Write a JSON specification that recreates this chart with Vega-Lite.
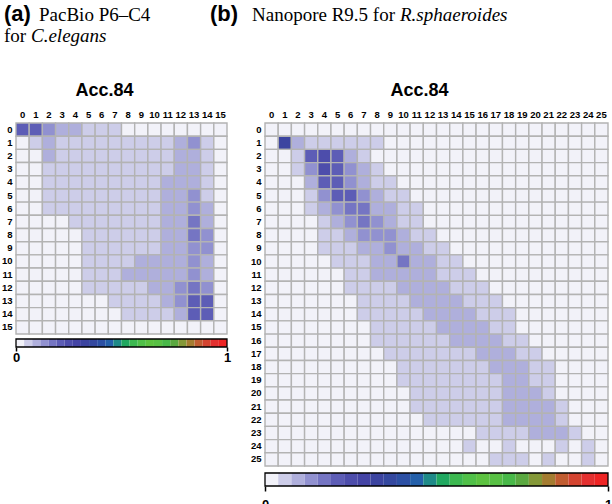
{"$schema":"https://vega.github.io/schema/vega-lite/v6.json","padding":{"left":1,"top":3,"right":0,"bottom":0},"background":"white","config":{"view":{"stroke":null},"axis":{"labelFont":"Liberation Sans","labelFontWeight":"bold","labelColor":"black"}},"spacing":-21,"datasets":{"a":[
{"row":0,"col":0,"acc":0.21},{"row":0,"col":1,"acc":0.21},{"row":0,"col":2,"acc":0.13},{"row":0,"col":3,"acc":0.1},{"row":0,"col":4,"acc":0.1},{"row":0,"col":5,"acc":0.06},{"row":0,"col":6,"acc":0.06},{"row":0,"col":7,"acc":0.06},{"row":0,"col":8,"acc":0.01},{"row":0,"col":9,"acc":0.01},{"row":0,"col":10,"acc":0.01},{"row":0,"col":11,"acc":0.01},{"row":0,"col":12,"acc":0.01},{"row":0,"col":13,"acc":0.01},{"row":0,"col":14,"acc":0.01},{"row":0,"col":15,"acc":0.01},
{"row":1,"col":0,"acc":0.01},{"row":1,"col":1,"acc":0.06},{"row":1,"col":2,"acc":0.1},{"row":1,"col":3,"acc":0.06},{"row":1,"col":4,"acc":0.06},{"row":1,"col":5,"acc":0.06},{"row":1,"col":6,"acc":0.06},{"row":1,"col":7,"acc":0.06},{"row":1,"col":8,"acc":0.06},{"row":1,"col":9,"acc":0.06},{"row":1,"col":10,"acc":0.06},{"row":1,"col":11,"acc":0.06},{"row":1,"col":12,"acc":0.1},{"row":1,"col":13,"acc":0.13},{"row":1,"col":14,"acc":0.06},{"row":1,"col":15,"acc":0.01},
{"row":2,"col":0,"acc":0.01},{"row":2,"col":1,"acc":0.01},{"row":2,"col":2,"acc":0.1},{"row":2,"col":3,"acc":0.06},{"row":2,"col":4,"acc":0.06},{"row":2,"col":5,"acc":0.06},{"row":2,"col":6,"acc":0.06},{"row":2,"col":7,"acc":0.06},{"row":2,"col":8,"acc":0.06},{"row":2,"col":9,"acc":0.06},{"row":2,"col":10,"acc":0.06},{"row":2,"col":11,"acc":0.06},{"row":2,"col":12,"acc":0.1},{"row":2,"col":13,"acc":0.1},{"row":2,"col":14,"acc":0.06},{"row":2,"col":15,"acc":0.01},
{"row":3,"col":0,"acc":0.01},{"row":3,"col":1,"acc":0.01},{"row":3,"col":2,"acc":0.06},{"row":3,"col":3,"acc":0.06},{"row":3,"col":4,"acc":0.06},{"row":3,"col":5,"acc":0.06},{"row":3,"col":6,"acc":0.06},{"row":3,"col":7,"acc":0.06},{"row":3,"col":8,"acc":0.06},{"row":3,"col":9,"acc":0.06},{"row":3,"col":10,"acc":0.06},{"row":3,"col":11,"acc":0.06},{"row":3,"col":12,"acc":0.1},{"row":3,"col":13,"acc":0.1},{"row":3,"col":14,"acc":0.06},{"row":3,"col":15,"acc":0.01},
{"row":4,"col":0,"acc":0.01},{"row":4,"col":1,"acc":0.01},{"row":4,"col":2,"acc":0.06},{"row":4,"col":3,"acc":0.06},{"row":4,"col":4,"acc":0.06},{"row":4,"col":5,"acc":0.06},{"row":4,"col":6,"acc":0.06},{"row":4,"col":7,"acc":0.06},{"row":4,"col":8,"acc":0.06},{"row":4,"col":9,"acc":0.06},{"row":4,"col":10,"acc":0.06},{"row":4,"col":11,"acc":0.1},{"row":4,"col":12,"acc":0.1},{"row":4,"col":13,"acc":0.1},{"row":4,"col":14,"acc":0.06},{"row":4,"col":15,"acc":0.01},
{"row":5,"col":0,"acc":0.01},{"row":5,"col":1,"acc":0.01},{"row":5,"col":2,"acc":0.06},{"row":5,"col":3,"acc":0.06},{"row":5,"col":4,"acc":0.06},{"row":5,"col":5,"acc":0.06},{"row":5,"col":6,"acc":0.06},{"row":5,"col":7,"acc":0.06},{"row":5,"col":8,"acc":0.06},{"row":5,"col":9,"acc":0.06},{"row":5,"col":10,"acc":0.06},{"row":5,"col":11,"acc":0.1},{"row":5,"col":12,"acc":0.1},{"row":5,"col":13,"acc":0.13},{"row":5,"col":14,"acc":0.06},{"row":5,"col":15,"acc":0.01},
{"row":6,"col":0,"acc":0.01},{"row":6,"col":1,"acc":0.01},{"row":6,"col":2,"acc":0.06},{"row":6,"col":3,"acc":0.06},{"row":6,"col":4,"acc":0.06},{"row":6,"col":5,"acc":0.06},{"row":6,"col":6,"acc":0.06},{"row":6,"col":7,"acc":0.06},{"row":6,"col":8,"acc":0.06},{"row":6,"col":9,"acc":0.06},{"row":6,"col":10,"acc":0.06},{"row":6,"col":11,"acc":0.1},{"row":6,"col":12,"acc":0.1},{"row":6,"col":13,"acc":0.13},{"row":6,"col":14,"acc":0.1},{"row":6,"col":15,"acc":0.01},
{"row":7,"col":0,"acc":0.01},{"row":7,"col":1,"acc":0.01},{"row":7,"col":2,"acc":0.01},{"row":7,"col":3,"acc":0.01},{"row":7,"col":4,"acc":0.06},{"row":7,"col":5,"acc":0.06},{"row":7,"col":6,"acc":0.06},{"row":7,"col":7,"acc":0.06},{"row":7,"col":8,"acc":0.06},{"row":7,"col":9,"acc":0.06},{"row":7,"col":10,"acc":0.06},{"row":7,"col":11,"acc":0.1},{"row":7,"col":12,"acc":0.1},{"row":7,"col":13,"acc":0.17},{"row":7,"col":14,"acc":0.1},{"row":7,"col":15,"acc":0.01},
{"row":8,"col":0,"acc":0.01},{"row":8,"col":1,"acc":0.01},{"row":8,"col":2,"acc":0.01},{"row":8,"col":3,"acc":0.01},{"row":8,"col":4,"acc":0.01},{"row":8,"col":5,"acc":0.06},{"row":8,"col":6,"acc":0.06},{"row":8,"col":7,"acc":0.06},{"row":8,"col":8,"acc":0.06},{"row":8,"col":9,"acc":0.06},{"row":8,"col":10,"acc":0.06},{"row":8,"col":11,"acc":0.1},{"row":8,"col":12,"acc":0.1},{"row":8,"col":13,"acc":0.17},{"row":8,"col":14,"acc":0.13},{"row":8,"col":15,"acc":0.01},
{"row":9,"col":0,"acc":0.01},{"row":9,"col":1,"acc":0.01},{"row":9,"col":2,"acc":0.01},{"row":9,"col":3,"acc":0.01},{"row":9,"col":4,"acc":0.01},{"row":9,"col":5,"acc":0.06},{"row":9,"col":6,"acc":0.06},{"row":9,"col":7,"acc":0.06},{"row":9,"col":8,"acc":0.06},{"row":9,"col":9,"acc":0.06},{"row":9,"col":10,"acc":0.06},{"row":9,"col":11,"acc":0.1},{"row":9,"col":12,"acc":0.1},{"row":9,"col":13,"acc":0.13},{"row":9,"col":14,"acc":0.13},{"row":9,"col":15,"acc":0.01},
{"row":10,"col":0,"acc":0.01},{"row":10,"col":1,"acc":0.01},{"row":10,"col":2,"acc":0.01},{"row":10,"col":3,"acc":0.01},{"row":10,"col":4,"acc":0.01},{"row":10,"col":5,"acc":0.06},{"row":10,"col":6,"acc":0.06},{"row":10,"col":7,"acc":0.06},{"row":10,"col":8,"acc":0.06},{"row":10,"col":9,"acc":0.1},{"row":10,"col":10,"acc":0.1},{"row":10,"col":11,"acc":0.1},{"row":10,"col":12,"acc":0.1},{"row":10,"col":13,"acc":0.13},{"row":10,"col":14,"acc":0.1},{"row":10,"col":15,"acc":0.01},
{"row":11,"col":0,"acc":0.01},{"row":11,"col":1,"acc":0.01},{"row":11,"col":2,"acc":0.01},{"row":11,"col":3,"acc":0.01},{"row":11,"col":4,"acc":0.01},{"row":11,"col":5,"acc":0.06},{"row":11,"col":6,"acc":0.06},{"row":11,"col":7,"acc":0.06},{"row":11,"col":8,"acc":0.1},{"row":11,"col":9,"acc":0.1},{"row":11,"col":10,"acc":0.1},{"row":11,"col":11,"acc":0.1},{"row":11,"col":12,"acc":0.1},{"row":11,"col":13,"acc":0.13},{"row":11,"col":14,"acc":0.1},{"row":11,"col":15,"acc":0.01},
{"row":12,"col":0,"acc":0.01},{"row":12,"col":1,"acc":0.01},{"row":12,"col":2,"acc":0.01},{"row":12,"col":3,"acc":0.01},{"row":12,"col":4,"acc":0.01},{"row":12,"col":5,"acc":0.06},{"row":12,"col":6,"acc":0.06},{"row":12,"col":7,"acc":0.06},{"row":12,"col":8,"acc":0.06},{"row":12,"col":9,"acc":0.06},{"row":12,"col":10,"acc":0.1},{"row":12,"col":11,"acc":0.1},{"row":12,"col":12,"acc":0.13},{"row":12,"col":13,"acc":0.17},{"row":12,"col":14,"acc":0.13},{"row":12,"col":15,"acc":0.01},
{"row":13,"col":0,"acc":0.01},{"row":13,"col":1,"acc":0.01},{"row":13,"col":2,"acc":0.01},{"row":13,"col":3,"acc":0.01},{"row":13,"col":4,"acc":0.01},{"row":13,"col":5,"acc":0.01},{"row":13,"col":6,"acc":0.01},{"row":13,"col":7,"acc":0.06},{"row":13,"col":8,"acc":0.06},{"row":13,"col":9,"acc":0.06},{"row":13,"col":10,"acc":0.06},{"row":13,"col":11,"acc":0.1},{"row":13,"col":12,"acc":0.13},{"row":13,"col":13,"acc":0.21},{"row":13,"col":14,"acc":0.21},{"row":13,"col":15,"acc":0.01},
{"row":14,"col":0,"acc":0.01},{"row":14,"col":1,"acc":0.01},{"row":14,"col":2,"acc":0.01},{"row":14,"col":3,"acc":0.01},{"row":14,"col":4,"acc":0.01},{"row":14,"col":5,"acc":0.01},{"row":14,"col":6,"acc":0.01},{"row":14,"col":7,"acc":0.01},{"row":14,"col":8,"acc":0.06},{"row":14,"col":9,"acc":0.06},{"row":14,"col":10,"acc":0.06},{"row":14,"col":11,"acc":0.06},{"row":14,"col":12,"acc":0.1},{"row":14,"col":13,"acc":0.21},{"row":14,"col":14,"acc":0.21},{"row":14,"col":15,"acc":0.01},
{"row":15,"col":0,"acc":0.01},{"row":15,"col":1,"acc":0.01},{"row":15,"col":2,"acc":0.01},{"row":15,"col":3,"acc":0.01},{"row":15,"col":4,"acc":0.01},{"row":15,"col":5,"acc":0.01},{"row":15,"col":6,"acc":0.01},{"row":15,"col":7,"acc":0.01},{"row":15,"col":8,"acc":0.01},{"row":15,"col":9,"acc":0.01},{"row":15,"col":10,"acc":0.01},{"row":15,"col":11,"acc":0.01},{"row":15,"col":12,"acc":0.01},{"row":15,"col":13,"acc":0.01},{"row":15,"col":14,"acc":0.01},{"row":15,"col":15,"acc":0.01}
],"b":[
{"row":0,"col":0,"acc":0.01},{"row":0,"col":1,"acc":0.01},{"row":0,"col":2,"acc":0.01},{"row":0,"col":3,"acc":0.01},{"row":0,"col":4,"acc":0.01},{"row":0,"col":5,"acc":0.01},{"row":0,"col":6,"acc":0.01},{"row":0,"col":7,"acc":0.01},{"row":0,"col":8,"acc":0.01},{"row":0,"col":9,"acc":0.01},{"row":0,"col":10,"acc":0.01},{"row":0,"col":11,"acc":0.01},{"row":0,"col":12,"acc":0.01},{"row":0,"col":13,"acc":0.01},{"row":0,"col":14,"acc":0.01},{"row":0,"col":15,"acc":0.01},{"row":0,"col":16,"acc":0.01},{"row":0,"col":17,"acc":0.01},{"row":0,"col":18,"acc":0.01},{"row":0,"col":19,"acc":0.01},{"row":0,"col":20,"acc":0.01},{"row":0,"col":21,"acc":0.01},{"row":0,"col":22,"acc":0.01},{"row":0,"col":23,"acc":0.01},{"row":0,"col":24,"acc":0.01},{"row":0,"col":25,"acc":0.01},
{"row":1,"col":0,"acc":0.01},{"row":1,"col":1,"acc":0.33},{"row":1,"col":2,"acc":0.1},{"row":1,"col":3,"acc":0.06},{"row":1,"col":4,"acc":0.06},{"row":1,"col":5,"acc":0.06},{"row":1,"col":6,"acc":0.06},{"row":1,"col":7,"acc":0.06},{"row":1,"col":8,"acc":0.06},{"row":1,"col":9,"acc":0.01},{"row":1,"col":10,"acc":0.01},{"row":1,"col":11,"acc":0.01},{"row":1,"col":12,"acc":0.01},{"row":1,"col":13,"acc":0.01},{"row":1,"col":14,"acc":0.01},{"row":1,"col":15,"acc":0.01},{"row":1,"col":16,"acc":0.01},{"row":1,"col":17,"acc":0.01},{"row":1,"col":18,"acc":0.01},{"row":1,"col":19,"acc":0.01},{"row":1,"col":20,"acc":0.01},{"row":1,"col":21,"acc":0.01},{"row":1,"col":22,"acc":0.01},{"row":1,"col":23,"acc":0.01},{"row":1,"col":24,"acc":0.01},{"row":1,"col":25,"acc":0.01},
{"row":2,"col":0,"acc":0.01},{"row":2,"col":1,"acc":0.01},{"row":2,"col":2,"acc":0.06},{"row":2,"col":3,"acc":0.21},{"row":2,"col":4,"acc":0.25},{"row":2,"col":5,"acc":0.21},{"row":2,"col":6,"acc":0.1},{"row":2,"col":7,"acc":0.06},{"row":2,"col":8,"acc":0.01},{"row":2,"col":9,"acc":0.01},{"row":2,"col":10,"acc":0.01},{"row":2,"col":11,"acc":0.01},{"row":2,"col":12,"acc":0.01},{"row":2,"col":13,"acc":0.01},{"row":2,"col":14,"acc":0.01},{"row":2,"col":15,"acc":0.01},{"row":2,"col":16,"acc":0.01},{"row":2,"col":17,"acc":0.01},{"row":2,"col":18,"acc":0.01},{"row":2,"col":19,"acc":0.01},{"row":2,"col":20,"acc":0.01},{"row":2,"col":21,"acc":0.01},{"row":2,"col":22,"acc":0.01},{"row":2,"col":23,"acc":0.01},{"row":2,"col":24,"acc":0.01},{"row":2,"col":25,"acc":0.01},
{"row":3,"col":0,"acc":0.01},{"row":3,"col":1,"acc":0.01},{"row":3,"col":2,"acc":0.06},{"row":3,"col":3,"acc":0.13},{"row":3,"col":4,"acc":0.25},{"row":3,"col":5,"acc":0.21},{"row":3,"col":6,"acc":0.13},{"row":3,"col":7,"acc":0.1},{"row":3,"col":8,"acc":0.06},{"row":3,"col":9,"acc":0.01},{"row":3,"col":10,"acc":0.01},{"row":3,"col":11,"acc":0.01},{"row":3,"col":12,"acc":0.01},{"row":3,"col":13,"acc":0.01},{"row":3,"col":14,"acc":0.01},{"row":3,"col":15,"acc":0.01},{"row":3,"col":16,"acc":0.01},{"row":3,"col":17,"acc":0.01},{"row":3,"col":18,"acc":0.01},{"row":3,"col":19,"acc":0.01},{"row":3,"col":20,"acc":0.01},{"row":3,"col":21,"acc":0.01},{"row":3,"col":22,"acc":0.01},{"row":3,"col":23,"acc":0.01},{"row":3,"col":24,"acc":0.01},{"row":3,"col":25,"acc":0.01},
{"row":4,"col":0,"acc":0.01},{"row":4,"col":1,"acc":0.01},{"row":4,"col":2,"acc":0.01},{"row":4,"col":3,"acc":0.1},{"row":4,"col":4,"acc":0.21},{"row":4,"col":5,"acc":0.21},{"row":4,"col":6,"acc":0.13},{"row":4,"col":7,"acc":0.1},{"row":4,"col":8,"acc":0.06},{"row":4,"col":9,"acc":0.06},{"row":4,"col":10,"acc":0.01},{"row":4,"col":11,"acc":0.01},{"row":4,"col":12,"acc":0.01},{"row":4,"col":13,"acc":0.01},{"row":4,"col":14,"acc":0.01},{"row":4,"col":15,"acc":0.01},{"row":4,"col":16,"acc":0.01},{"row":4,"col":17,"acc":0.01},{"row":4,"col":18,"acc":0.01},{"row":4,"col":19,"acc":0.01},{"row":4,"col":20,"acc":0.01},{"row":4,"col":21,"acc":0.01},{"row":4,"col":22,"acc":0.01},{"row":4,"col":23,"acc":0.01},{"row":4,"col":24,"acc":0.01},{"row":4,"col":25,"acc":0.01},
{"row":5,"col":0,"acc":0.01},{"row":5,"col":1,"acc":0.01},{"row":5,"col":2,"acc":0.01},{"row":5,"col":3,"acc":0.06},{"row":5,"col":4,"acc":0.13},{"row":5,"col":5,"acc":0.21},{"row":5,"col":6,"acc":0.21},{"row":5,"col":7,"acc":0.13},{"row":5,"col":8,"acc":0.1},{"row":5,"col":9,"acc":0.06},{"row":5,"col":10,"acc":0.06},{"row":5,"col":11,"acc":0.01},{"row":5,"col":12,"acc":0.01},{"row":5,"col":13,"acc":0.01},{"row":5,"col":14,"acc":0.01},{"row":5,"col":15,"acc":0.01},{"row":5,"col":16,"acc":0.01},{"row":5,"col":17,"acc":0.01},{"row":5,"col":18,"acc":0.01},{"row":5,"col":19,"acc":0.01},{"row":5,"col":20,"acc":0.01},{"row":5,"col":21,"acc":0.01},{"row":5,"col":22,"acc":0.01},{"row":5,"col":23,"acc":0.01},{"row":5,"col":24,"acc":0.01},{"row":5,"col":25,"acc":0.01},
{"row":6,"col":0,"acc":0.01},{"row":6,"col":1,"acc":0.01},{"row":6,"col":2,"acc":0.01},{"row":6,"col":3,"acc":0.06},{"row":6,"col":4,"acc":0.1},{"row":6,"col":5,"acc":0.13},{"row":6,"col":6,"acc":0.17},{"row":6,"col":7,"acc":0.17},{"row":6,"col":8,"acc":0.1},{"row":6,"col":9,"acc":0.1},{"row":6,"col":10,"acc":0.06},{"row":6,"col":11,"acc":0.06},{"row":6,"col":12,"acc":0.01},{"row":6,"col":13,"acc":0.01},{"row":6,"col":14,"acc":0.01},{"row":6,"col":15,"acc":0.01},{"row":6,"col":16,"acc":0.01},{"row":6,"col":17,"acc":0.01},{"row":6,"col":18,"acc":0.01},{"row":6,"col":19,"acc":0.01},{"row":6,"col":20,"acc":0.01},{"row":6,"col":21,"acc":0.01},{"row":6,"col":22,"acc":0.01},{"row":6,"col":23,"acc":0.01},{"row":6,"col":24,"acc":0.01},{"row":6,"col":25,"acc":0.01},
{"row":7,"col":0,"acc":0.01},{"row":7,"col":1,"acc":0.01},{"row":7,"col":2,"acc":0.01},{"row":7,"col":3,"acc":0.01},{"row":7,"col":4,"acc":0.06},{"row":7,"col":5,"acc":0.1},{"row":7,"col":6,"acc":0.13},{"row":7,"col":7,"acc":0.17},{"row":7,"col":8,"acc":0.13},{"row":7,"col":9,"acc":0.1},{"row":7,"col":10,"acc":0.06},{"row":7,"col":11,"acc":0.06},{"row":7,"col":12,"acc":0.01},{"row":7,"col":13,"acc":0.01},{"row":7,"col":14,"acc":0.01},{"row":7,"col":15,"acc":0.01},{"row":7,"col":16,"acc":0.01},{"row":7,"col":17,"acc":0.01},{"row":7,"col":18,"acc":0.01},{"row":7,"col":19,"acc":0.01},{"row":7,"col":20,"acc":0.01},{"row":7,"col":21,"acc":0.01},{"row":7,"col":22,"acc":0.01},{"row":7,"col":23,"acc":0.01},{"row":7,"col":24,"acc":0.01},{"row":7,"col":25,"acc":0.01},
{"row":8,"col":0,"acc":0.01},{"row":8,"col":1,"acc":0.01},{"row":8,"col":2,"acc":0.01},{"row":8,"col":3,"acc":0.01},{"row":8,"col":4,"acc":0.06},{"row":8,"col":5,"acc":0.06},{"row":8,"col":6,"acc":0.1},{"row":8,"col":7,"acc":0.13},{"row":8,"col":8,"acc":0.13},{"row":8,"col":9,"acc":0.13},{"row":8,"col":10,"acc":0.1},{"row":8,"col":11,"acc":0.06},{"row":8,"col":12,"acc":0.06},{"row":8,"col":13,"acc":0.01},{"row":8,"col":14,"acc":0.01},{"row":8,"col":15,"acc":0.01},{"row":8,"col":16,"acc":0.01},{"row":8,"col":17,"acc":0.01},{"row":8,"col":18,"acc":0.01},{"row":8,"col":19,"acc":0.01},{"row":8,"col":20,"acc":0.01},{"row":8,"col":21,"acc":0.01},{"row":8,"col":22,"acc":0.01},{"row":8,"col":23,"acc":0.01},{"row":8,"col":24,"acc":0.01},{"row":8,"col":25,"acc":0.01},
{"row":9,"col":0,"acc":0.01},{"row":9,"col":1,"acc":0.01},{"row":9,"col":2,"acc":0.01},{"row":9,"col":3,"acc":0.01},{"row":9,"col":4,"acc":0.06},{"row":9,"col":5,"acc":0.06},{"row":9,"col":6,"acc":0.06},{"row":9,"col":7,"acc":0.1},{"row":9,"col":8,"acc":0.1},{"row":9,"col":9,"acc":0.13},{"row":9,"col":10,"acc":0.1},{"row":9,"col":11,"acc":0.1},{"row":9,"col":12,"acc":0.06},{"row":9,"col":13,"acc":0.06},{"row":9,"col":14,"acc":0.01},{"row":9,"col":15,"acc":0.01},{"row":9,"col":16,"acc":0.01},{"row":9,"col":17,"acc":0.01},{"row":9,"col":18,"acc":0.01},{"row":9,"col":19,"acc":0.01},{"row":9,"col":20,"acc":0.01},{"row":9,"col":21,"acc":0.01},{"row":9,"col":22,"acc":0.01},{"row":9,"col":23,"acc":0.01},{"row":9,"col":24,"acc":0.01},{"row":9,"col":25,"acc":0.01},
{"row":10,"col":0,"acc":0.01},{"row":10,"col":1,"acc":0.01},{"row":10,"col":2,"acc":0.01},{"row":10,"col":3,"acc":0.01},{"row":10,"col":4,"acc":0.01},{"row":10,"col":5,"acc":0.06},{"row":10,"col":6,"acc":0.06},{"row":10,"col":7,"acc":0.06},{"row":10,"col":8,"acc":0.1},{"row":10,"col":9,"acc":0.1},{"row":10,"col":10,"acc":0.17},{"row":10,"col":11,"acc":0.1},{"row":10,"col":12,"acc":0.1},{"row":10,"col":13,"acc":0.06},{"row":10,"col":14,"acc":0.06},{"row":10,"col":15,"acc":0.01},{"row":10,"col":16,"acc":0.01},{"row":10,"col":17,"acc":0.01},{"row":10,"col":18,"acc":0.01},{"row":10,"col":19,"acc":0.01},{"row":10,"col":20,"acc":0.01},{"row":10,"col":21,"acc":0.01},{"row":10,"col":22,"acc":0.01},{"row":10,"col":23,"acc":0.01},{"row":10,"col":24,"acc":0.01},{"row":10,"col":25,"acc":0.01},
{"row":11,"col":0,"acc":0.01},{"row":11,"col":1,"acc":0.01},{"row":11,"col":2,"acc":0.01},{"row":11,"col":3,"acc":0.01},{"row":11,"col":4,"acc":0.01},{"row":11,"col":5,"acc":0.01},{"row":11,"col":6,"acc":0.06},{"row":11,"col":7,"acc":0.06},{"row":11,"col":8,"acc":0.1},{"row":11,"col":9,"acc":0.1},{"row":11,"col":10,"acc":0.1},{"row":11,"col":11,"acc":0.1},{"row":11,"col":12,"acc":0.1},{"row":11,"col":13,"acc":0.06},{"row":11,"col":14,"acc":0.06},{"row":11,"col":15,"acc":0.06},{"row":11,"col":16,"acc":0.01},{"row":11,"col":17,"acc":0.01},{"row":11,"col":18,"acc":0.01},{"row":11,"col":19,"acc":0.01},{"row":11,"col":20,"acc":0.01},{"row":11,"col":21,"acc":0.01},{"row":11,"col":22,"acc":0.01},{"row":11,"col":23,"acc":0.01},{"row":11,"col":24,"acc":0.01},{"row":11,"col":25,"acc":0.01},
{"row":12,"col":0,"acc":0.01},{"row":12,"col":1,"acc":0.01},{"row":12,"col":2,"acc":0.01},{"row":12,"col":3,"acc":0.01},{"row":12,"col":4,"acc":0.01},{"row":12,"col":5,"acc":0.01},{"row":12,"col":6,"acc":0.06},{"row":12,"col":7,"acc":0.06},{"row":12,"col":8,"acc":0.06},{"row":12,"col":9,"acc":0.06},{"row":12,"col":10,"acc":0.1},{"row":12,"col":11,"acc":0.1},{"row":12,"col":12,"acc":0.1},{"row":12,"col":13,"acc":0.1},{"row":12,"col":14,"acc":0.06},{"row":12,"col":15,"acc":0.06},{"row":12,"col":16,"acc":0.06},{"row":12,"col":17,"acc":0.01},{"row":12,"col":18,"acc":0.01},{"row":12,"col":19,"acc":0.01},{"row":12,"col":20,"acc":0.01},{"row":12,"col":21,"acc":0.01},{"row":12,"col":22,"acc":0.01},{"row":12,"col":23,"acc":0.01},{"row":12,"col":24,"acc":0.01},{"row":12,"col":25,"acc":0.01},
{"row":13,"col":0,"acc":0.01},{"row":13,"col":1,"acc":0.01},{"row":13,"col":2,"acc":0.01},{"row":13,"col":3,"acc":0.01},{"row":13,"col":4,"acc":0.01},{"row":13,"col":5,"acc":0.01},{"row":13,"col":6,"acc":0.01},{"row":13,"col":7,"acc":0.06},{"row":13,"col":8,"acc":0.06},{"row":13,"col":9,"acc":0.06},{"row":13,"col":10,"acc":0.06},{"row":13,"col":11,"acc":0.1},{"row":13,"col":12,"acc":0.1},{"row":13,"col":13,"acc":0.1},{"row":13,"col":14,"acc":0.1},{"row":13,"col":15,"acc":0.06},{"row":13,"col":16,"acc":0.06},{"row":13,"col":17,"acc":0.06},{"row":13,"col":18,"acc":0.01},{"row":13,"col":19,"acc":0.01},{"row":13,"col":20,"acc":0.01},{"row":13,"col":21,"acc":0.01},{"row":13,"col":22,"acc":0.01},{"row":13,"col":23,"acc":0.01},{"row":13,"col":24,"acc":0.01},{"row":13,"col":25,"acc":0.01},
{"row":14,"col":0,"acc":0.01},{"row":14,"col":1,"acc":0.01},{"row":14,"col":2,"acc":0.01},{"row":14,"col":3,"acc":0.01},{"row":14,"col":4,"acc":0.01},{"row":14,"col":5,"acc":0.01},{"row":14,"col":6,"acc":0.01},{"row":14,"col":7,"acc":0.06},{"row":14,"col":8,"acc":0.06},{"row":14,"col":9,"acc":0.06},{"row":14,"col":10,"acc":0.06},{"row":14,"col":11,"acc":0.06},{"row":14,"col":12,"acc":0.1},{"row":14,"col":13,"acc":0.1},{"row":14,"col":14,"acc":0.1},{"row":14,"col":15,"acc":0.1},{"row":14,"col":16,"acc":0.06},{"row":14,"col":17,"acc":0.06},{"row":14,"col":18,"acc":0.06},{"row":14,"col":19,"acc":0.01},{"row":14,"col":20,"acc":0.01},{"row":14,"col":21,"acc":0.01},{"row":14,"col":22,"acc":0.01},{"row":14,"col":23,"acc":0.01},{"row":14,"col":24,"acc":0.01},{"row":14,"col":25,"acc":0.01},
{"row":15,"col":0,"acc":0.01},{"row":15,"col":1,"acc":0.01},{"row":15,"col":2,"acc":0.01},{"row":15,"col":3,"acc":0.01},{"row":15,"col":4,"acc":0.01},{"row":15,"col":5,"acc":0.01},{"row":15,"col":6,"acc":0.01},{"row":15,"col":7,"acc":0.01},{"row":15,"col":8,"acc":0.06},{"row":15,"col":9,"acc":0.06},{"row":15,"col":10,"acc":0.06},{"row":15,"col":11,"acc":0.06},{"row":15,"col":12,"acc":0.06},{"row":15,"col":13,"acc":0.1},{"row":15,"col":14,"acc":0.1},{"row":15,"col":15,"acc":0.1},{"row":15,"col":16,"acc":0.1},{"row":15,"col":17,"acc":0.06},{"row":15,"col":18,"acc":0.06},{"row":15,"col":19,"acc":0.01},{"row":15,"col":20,"acc":0.01},{"row":15,"col":21,"acc":0.01},{"row":15,"col":22,"acc":0.01},{"row":15,"col":23,"acc":0.01},{"row":15,"col":24,"acc":0.01},{"row":15,"col":25,"acc":0.01},
{"row":16,"col":0,"acc":0.01},{"row":16,"col":1,"acc":0.01},{"row":16,"col":2,"acc":0.01},{"row":16,"col":3,"acc":0.01},{"row":16,"col":4,"acc":0.01},{"row":16,"col":5,"acc":0.01},{"row":16,"col":6,"acc":0.01},{"row":16,"col":7,"acc":0.01},{"row":16,"col":8,"acc":0.06},{"row":16,"col":9,"acc":0.06},{"row":16,"col":10,"acc":0.06},{"row":16,"col":11,"acc":0.06},{"row":16,"col":12,"acc":0.06},{"row":16,"col":13,"acc":0.06},{"row":16,"col":14,"acc":0.1},{"row":16,"col":15,"acc":0.1},{"row":16,"col":16,"acc":0.1},{"row":16,"col":17,"acc":0.1},{"row":16,"col":18,"acc":0.06},{"row":16,"col":19,"acc":0.06},{"row":16,"col":20,"acc":0.01},{"row":16,"col":21,"acc":0.01},{"row":16,"col":22,"acc":0.01},{"row":16,"col":23,"acc":0.01},{"row":16,"col":24,"acc":0.01},{"row":16,"col":25,"acc":0.01},
{"row":17,"col":0,"acc":0.01},{"row":17,"col":1,"acc":0.01},{"row":17,"col":2,"acc":0.01},{"row":17,"col":3,"acc":0.01},{"row":17,"col":4,"acc":0.01},{"row":17,"col":5,"acc":0.01},{"row":17,"col":6,"acc":0.01},{"row":17,"col":7,"acc":0.01},{"row":17,"col":8,"acc":0.01},{"row":17,"col":9,"acc":0.06},{"row":17,"col":10,"acc":0.06},{"row":17,"col":11,"acc":0.06},{"row":17,"col":12,"acc":0.06},{"row":17,"col":13,"acc":0.06},{"row":17,"col":14,"acc":0.06},{"row":17,"col":15,"acc":0.06},{"row":17,"col":16,"acc":0.1},{"row":17,"col":17,"acc":0.1},{"row":17,"col":18,"acc":0.1},{"row":17,"col":19,"acc":0.06},{"row":17,"col":20,"acc":0.06},{"row":17,"col":21,"acc":0.01},{"row":17,"col":22,"acc":0.01},{"row":17,"col":23,"acc":0.01},{"row":17,"col":24,"acc":0.01},{"row":17,"col":25,"acc":0.01},
{"row":18,"col":0,"acc":0.01},{"row":18,"col":1,"acc":0.01},{"row":18,"col":2,"acc":0.01},{"row":18,"col":3,"acc":0.01},{"row":18,"col":4,"acc":0.01},{"row":18,"col":5,"acc":0.01},{"row":18,"col":6,"acc":0.01},{"row":18,"col":7,"acc":0.01},{"row":18,"col":8,"acc":0.01},{"row":18,"col":9,"acc":0.01},{"row":18,"col":10,"acc":0.06},{"row":18,"col":11,"acc":0.06},{"row":18,"col":12,"acc":0.06},{"row":18,"col":13,"acc":0.06},{"row":18,"col":14,"acc":0.06},{"row":18,"col":15,"acc":0.06},{"row":18,"col":16,"acc":0.06},{"row":18,"col":17,"acc":0.1},{"row":18,"col":18,"acc":0.1},{"row":18,"col":19,"acc":0.1},{"row":18,"col":20,"acc":0.06},{"row":18,"col":21,"acc":0.06},{"row":18,"col":22,"acc":0.01},{"row":18,"col":23,"acc":0.01},{"row":18,"col":24,"acc":0.01},{"row":18,"col":25,"acc":0.01},
{"row":19,"col":0,"acc":0.01},{"row":19,"col":1,"acc":0.01},{"row":19,"col":2,"acc":0.01},{"row":19,"col":3,"acc":0.01},{"row":19,"col":4,"acc":0.01},{"row":19,"col":5,"acc":0.01},{"row":19,"col":6,"acc":0.01},{"row":19,"col":7,"acc":0.01},{"row":19,"col":8,"acc":0.01},{"row":19,"col":9,"acc":0.01},{"row":19,"col":10,"acc":0.06},{"row":19,"col":11,"acc":0.06},{"row":19,"col":12,"acc":0.06},{"row":19,"col":13,"acc":0.06},{"row":19,"col":14,"acc":0.06},{"row":19,"col":15,"acc":0.06},{"row":19,"col":16,"acc":0.06},{"row":19,"col":17,"acc":0.06},{"row":19,"col":18,"acc":0.1},{"row":19,"col":19,"acc":0.1},{"row":19,"col":20,"acc":0.06},{"row":19,"col":21,"acc":0.06},{"row":19,"col":22,"acc":0.01},{"row":19,"col":23,"acc":0.01},{"row":19,"col":24,"acc":0.01},{"row":19,"col":25,"acc":0.01},
{"row":20,"col":0,"acc":0.01},{"row":20,"col":1,"acc":0.01},{"row":20,"col":2,"acc":0.01},{"row":20,"col":3,"acc":0.01},{"row":20,"col":4,"acc":0.01},{"row":20,"col":5,"acc":0.01},{"row":20,"col":6,"acc":0.01},{"row":20,"col":7,"acc":0.01},{"row":20,"col":8,"acc":0.01},{"row":20,"col":9,"acc":0.01},{"row":20,"col":10,"acc":0.01},{"row":20,"col":11,"acc":0.06},{"row":20,"col":12,"acc":0.06},{"row":20,"col":13,"acc":0.06},{"row":20,"col":14,"acc":0.06},{"row":20,"col":15,"acc":0.06},{"row":20,"col":16,"acc":0.06},{"row":20,"col":17,"acc":0.06},{"row":20,"col":18,"acc":0.1},{"row":20,"col":19,"acc":0.1},{"row":20,"col":20,"acc":0.1},{"row":20,"col":21,"acc":0.06},{"row":20,"col":22,"acc":0.01},{"row":20,"col":23,"acc":0.01},{"row":20,"col":24,"acc":0.01},{"row":20,"col":25,"acc":0.01},
{"row":21,"col":0,"acc":0.01},{"row":21,"col":1,"acc":0.01},{"row":21,"col":2,"acc":0.01},{"row":21,"col":3,"acc":0.01},{"row":21,"col":4,"acc":0.01},{"row":21,"col":5,"acc":0.01},{"row":21,"col":6,"acc":0.01},{"row":21,"col":7,"acc":0.01},{"row":21,"col":8,"acc":0.01},{"row":21,"col":9,"acc":0.01},{"row":21,"col":10,"acc":0.01},{"row":21,"col":11,"acc":0.06},{"row":21,"col":12,"acc":0.06},{"row":21,"col":13,"acc":0.06},{"row":21,"col":14,"acc":0.06},{"row":21,"col":15,"acc":0.06},{"row":21,"col":16,"acc":0.06},{"row":21,"col":17,"acc":0.06},{"row":21,"col":18,"acc":0.1},{"row":21,"col":19,"acc":0.1},{"row":21,"col":20,"acc":0.1},{"row":21,"col":21,"acc":0.1},{"row":21,"col":22,"acc":0.06},{"row":21,"col":23,"acc":0.01},{"row":21,"col":24,"acc":0.01},{"row":21,"col":25,"acc":0.01},
{"row":22,"col":0,"acc":0.01},{"row":22,"col":1,"acc":0.01},{"row":22,"col":2,"acc":0.01},{"row":22,"col":3,"acc":0.01},{"row":22,"col":4,"acc":0.01},{"row":22,"col":5,"acc":0.01},{"row":22,"col":6,"acc":0.01},{"row":22,"col":7,"acc":0.01},{"row":22,"col":8,"acc":0.01},{"row":22,"col":9,"acc":0.01},{"row":22,"col":10,"acc":0.01},{"row":22,"col":11,"acc":0.01},{"row":22,"col":12,"acc":0.06},{"row":22,"col":13,"acc":0.06},{"row":22,"col":14,"acc":0.06},{"row":22,"col":15,"acc":0.06},{"row":22,"col":16,"acc":0.06},{"row":22,"col":17,"acc":0.06},{"row":22,"col":18,"acc":0.1},{"row":22,"col":19,"acc":0.1},{"row":22,"col":20,"acc":0.1},{"row":22,"col":21,"acc":0.1},{"row":22,"col":22,"acc":0.06},{"row":22,"col":23,"acc":0.01},{"row":22,"col":24,"acc":0.01},{"row":22,"col":25,"acc":0.01},
{"row":23,"col":0,"acc":0.01},{"row":23,"col":1,"acc":0.01},{"row":23,"col":2,"acc":0.01},{"row":23,"col":3,"acc":0.01},{"row":23,"col":4,"acc":0.01},{"row":23,"col":5,"acc":0.01},{"row":23,"col":6,"acc":0.01},{"row":23,"col":7,"acc":0.01},{"row":23,"col":8,"acc":0.01},{"row":23,"col":9,"acc":0.01},{"row":23,"col":10,"acc":0.01},{"row":23,"col":11,"acc":0.01},{"row":23,"col":12,"acc":0.01},{"row":23,"col":13,"acc":0.01},{"row":23,"col":14,"acc":0.01},{"row":23,"col":15,"acc":0.01},{"row":23,"col":16,"acc":0.06},{"row":23,"col":17,"acc":0.06},{"row":23,"col":18,"acc":0.06},{"row":23,"col":19,"acc":0.06},{"row":23,"col":20,"acc":0.1},{"row":23,"col":21,"acc":0.1},{"row":23,"col":22,"acc":0.1},{"row":23,"col":23,"acc":0.06},{"row":23,"col":24,"acc":0.01},{"row":23,"col":25,"acc":0.01},
{"row":24,"col":0,"acc":0.01},{"row":24,"col":1,"acc":0.01},{"row":24,"col":2,"acc":0.01},{"row":24,"col":3,"acc":0.01},{"row":24,"col":4,"acc":0.01},{"row":24,"col":5,"acc":0.01},{"row":24,"col":6,"acc":0.01},{"row":24,"col":7,"acc":0.01},{"row":24,"col":8,"acc":0.01},{"row":24,"col":9,"acc":0.01},{"row":24,"col":10,"acc":0.01},{"row":24,"col":11,"acc":0.01},{"row":24,"col":12,"acc":0.01},{"row":24,"col":13,"acc":0.01},{"row":24,"col":14,"acc":0.01},{"row":24,"col":15,"acc":0.06},{"row":24,"col":16,"acc":0.01},{"row":24,"col":17,"acc":0.01},{"row":24,"col":18,"acc":0.06},{"row":24,"col":19,"acc":0.01},{"row":24,"col":20,"acc":0.01},{"row":24,"col":21,"acc":0.01},{"row":24,"col":22,"acc":0.06},{"row":24,"col":23,"acc":0.01},{"row":24,"col":24,"acc":0.06},{"row":24,"col":25,"acc":0.01},
{"row":25,"col":0,"acc":0.01},{"row":25,"col":1,"acc":0.01},{"row":25,"col":2,"acc":0.01},{"row":25,"col":3,"acc":0.01},{"row":25,"col":4,"acc":0.01},{"row":25,"col":5,"acc":0.01},{"row":25,"col":6,"acc":0.01},{"row":25,"col":7,"acc":0.01},{"row":25,"col":8,"acc":0.01},{"row":25,"col":9,"acc":0.01},{"row":25,"col":10,"acc":0.01},{"row":25,"col":11,"acc":0.01},{"row":25,"col":12,"acc":0.01},{"row":25,"col":13,"acc":0.01},{"row":25,"col":14,"acc":0.01},{"row":25,"col":15,"acc":0.01},{"row":25,"col":16,"acc":0.01},{"row":25,"col":17,"acc":0.06},{"row":25,"col":18,"acc":0.06},{"row":25,"col":19,"acc":0.06},{"row":25,"col":20,"acc":0.01},{"row":25,"col":21,"acc":0.06},{"row":25,"col":22,"acc":0.01},{"row":25,"col":23,"acc":0.01},{"row":25,"col":24,"acc":0.06},{"row":25,"col":25,"acc":0.01}
],"bar":[
{"lo":0,"hi":0.0385,"mid":0.0192},{"lo":0.0385,"hi":0.0769,"mid":0.0577},{"lo":0.0769,"hi":0.1154,"mid":0.0962},{"lo":0.1154,"hi":0.1538,"mid":0.1346},{"lo":0.1538,"hi":0.1923,"mid":0.1731},{"lo":0.1923,"hi":0.2308,"mid":0.2115},{"lo":0.2308,"hi":0.2692,"mid":0.25},{"lo":0.2692,"hi":0.3077,"mid":0.2885},{"lo":0.3077,"hi":0.3462,"mid":0.3269},{"lo":0.3462,"hi":0.3846,"mid":0.3654},{"lo":0.3846,"hi":0.4231,"mid":0.4038},{"lo":0.4231,"hi":0.4615,"mid":0.4423},{"lo":0.4615,"hi":0.5,"mid":0.4808},{"lo":0.5,"hi":0.5385,"mid":0.5192},{"lo":0.5385,"hi":0.5769,"mid":0.5577},{"lo":0.5769,"hi":0.6154,"mid":0.5962},{"lo":0.6154,"hi":0.6538,"mid":0.6346},{"lo":0.6538,"hi":0.6923,"mid":0.6731},{"lo":0.6923,"hi":0.7308,"mid":0.7115},{"lo":0.7308,"hi":0.7692,"mid":0.75},{"lo":0.7692,"hi":0.8077,"mid":0.7885},{"lo":0.8077,"hi":0.8462,"mid":0.8269},{"lo":0.8462,"hi":0.8846,"mid":0.8654},{"lo":0.8846,"hi":0.9231,"mid":0.9038},{"lo":0.9231,"hi":0.9615,"mid":0.9423},{"lo":0.9615,"hi":1,"mid":0.9808}
]},
"hconcat":[
{"title":{"text":"(a)","font":"Liberation Sans","fontSize":22,"fontWeight":"bold","anchor":"start","frame":"group","offset":0,"dy":20,"dx":-12,"color":"black"},
 "vconcat":[{"title":{"text":"PacBio P6–C4","font":"Liberation Serif","fontSize":19,"fontWeight":"normal","anchor":"start","frame":"group","offset":2,"dx":23,"color":"black"},
  "vconcat":[{"title":{"text":"for","font":"Liberation Serif","fontSize":19,"fontWeight":"normal","anchor":"start","frame":"group","offset":0,"dy":19,"dx":-12,"color":"black"},
   "vconcat":[{"title":{"text":"C.elegans","font":"Liberation Serif","fontSize":19,"fontStyle":"italic","fontWeight":"normal","anchor":"start","frame":"group","offset":36,"dx":15,"color":"black"},
    "spacing":3,
    "vconcat":[
     {"width":211,"height":211,"data":{"name":"a"},
      "title":{"text":"Acc.84","font":"Liberation Sans","fontSize":18,"fontWeight":"bold","offset":9,"dx":-17,"color":"black"},
      "mark":{"type":"rect","stroke":"#b3b3b3","strokeWidth":1.4},
      "encoding":{
       "x":{"field":"col","type":"ordinal","scale":{"paddingInner":0,"paddingOuter":0},"axis":{"orient":"top","title":null,"labelAngle":0,"ticks":false,"domain":false,"labelFontSize":9.5,"labelPadding":4}},
       "y":{"field":"row","type":"ordinal","scale":{"paddingInner":0,"paddingOuter":0},"axis":{"title":null,"ticks":false,"domain":false,"labelFontSize":9.5,"labelPadding":4}},
       "color":{"field":"acc","type":"quantitative","legend":null,"scale":{"type":"quantize","domain":[0,1],"range":["#f2f2f9","#cdcde9","#afafdc","#9191d0","#7575c3","#5d5db6","#4d4dab","#4444a5","#3c44a0","#34489f","#2c50a4","#2460aa","#1e8a88","#20a860","#3cb850","#50c048","#5cc240","#58c044","#48b848","#5aa840","#849838","#a47c30","#c05c30","#d44430","#e43030","#ee2424"]}}}},
     {"width":211,"height":8,"data":{"name":"bar"},
      "layer":[
       {"mark":{"type":"rect"},
        "encoding":{"x":{"field":"lo","type":"quantitative","scale":{"domain":[0,1],"nice":false},"axis":{"values":[0,1],"format":"d","title":null,"domain":false,"grid":false,"ticks":true,"tickSize":4,"tickWidth":1.5,"tickColor":"black","labelFontSize":13,"labelPadding":0,"labelFlush":false}},
         "x2":{"field":"hi"},
         "color":{"field":"mid","type":"quantitative","legend":null,"scale":{"type":"quantize","domain":[0,1],"range":["#f2f2f9","#cdcde9","#afafdc","#9191d0","#7575c3","#5d5db6","#4d4dab","#4444a5","#3c44a0","#34489f","#2c50a4","#2460aa","#1e8a88","#20a860","#3cb850","#50c048","#5cc240","#58c044","#48b848","#5aa840","#849838","#a47c30","#c05c30","#d44430","#e43030","#ee2424"]}}}},
       {"data":{"values":[{}]},"mark":{"type":"rect","filled":false,"stroke":"black","strokeWidth":1.3},
        "encoding":{"x":{"datum":0},"x2":{"datum":1}}}
      ]}
    ]}]}]}]},
{"title":{"text":"(b)","font":"Liberation Sans","fontSize":22,"fontWeight":"bold","anchor":"start","frame":"group","offset":0,"dy":20,"dx":-55,"color":"black"},
 "vconcat":[{"title":{"text":"Nanopore R9.5 for","font":"Liberation Serif","fontSize":19,"fontWeight":"normal","anchor":"start","frame":"group","offset":0,"dy":19,"dx":-13,"color":"black"},
  "vconcat":[{"title":{"text":"R.sphaeroides","font":"Liberation Serif","fontSize":19,"fontStyle":"italic","fontWeight":"normal","anchor":"start","frame":"group","offset":57,"dx":135,"color":"black"},
    "spacing":5,
    "vconcat":[
     {"width":343,"height":343,"data":{"name":"b"},
      "title":{"text":"Acc.84","font":"Liberation Sans","fontSize":18,"fontWeight":"bold","offset":9,"dx":-17,"color":"black"},
      "mark":{"type":"rect","stroke":"#b3b3b3","strokeWidth":1.4},
      "encoding":{
       "x":{"field":"col","type":"ordinal","scale":{"paddingInner":0,"paddingOuter":0},"axis":{"orient":"top","title":null,"labelAngle":0,"ticks":false,"domain":false,"labelFontSize":9.5,"labelPadding":4}},
       "y":{"field":"row","type":"ordinal","scale":{"paddingInner":0,"paddingOuter":0},"axis":{"title":null,"ticks":false,"domain":false,"labelFontSize":9.5,"labelPadding":4}},
       "color":{"field":"acc","type":"quantitative","legend":null,"scale":{"type":"quantize","domain":[0,1],"range":["#f2f2f9","#cdcde9","#afafdc","#9191d0","#7575c3","#5d5db6","#4d4dab","#4444a5","#3c44a0","#34489f","#2c50a4","#2460aa","#1e8a88","#20a860","#3cb850","#50c048","#5cc240","#58c044","#48b848","#5aa840","#849838","#a47c30","#c05c30","#d44430","#e43030","#ee2424"]}}}},
     {"width":343,"height":13,"data":{"name":"bar"},
      "layer":[
       {"mark":{"type":"rect"},
        "encoding":{"x":{"field":"lo","type":"quantitative","scale":{"domain":[0,1],"nice":false},"axis":{"values":[0,1],"format":"d","title":null,"domain":false,"grid":false,"ticks":true,"tickSize":5,"tickWidth":1.5,"tickColor":"black","labelFontSize":13,"labelPadding":7,"labelFlush":false}},
         "x2":{"field":"hi"},
         "color":{"field":"mid","type":"quantitative","legend":null,"scale":{"type":"quantize","domain":[0,1],"range":["#f2f2f9","#cdcde9","#afafdc","#9191d0","#7575c3","#5d5db6","#4d4dab","#4444a5","#3c44a0","#34489f","#2c50a4","#2460aa","#1e8a88","#20a860","#3cb850","#50c048","#5cc240","#58c044","#48b848","#5aa840","#849838","#a47c30","#c05c30","#d44430","#e43030","#ee2424"]}}}},
       {"data":{"values":[{}]},"mark":{"type":"rect","filled":false,"stroke":"black","strokeWidth":1.3},
        "encoding":{"x":{"datum":0},"x2":{"datum":1}}}
      ]}
    ]}]}]}
]}
